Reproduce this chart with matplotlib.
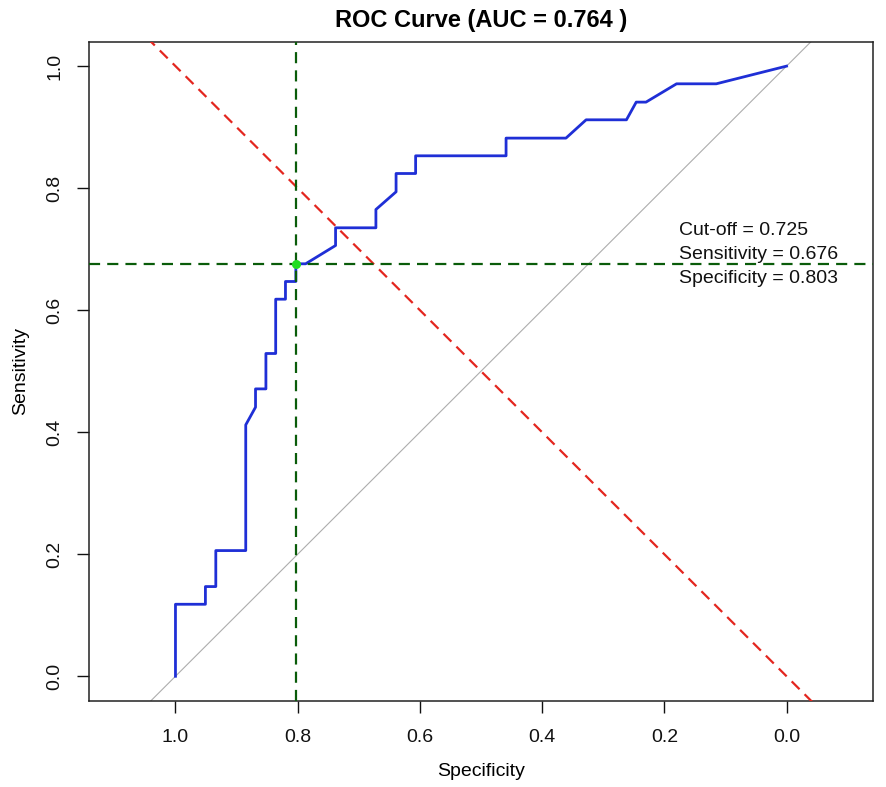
import numpy as np
import matplotlib
matplotlib.use("Agg")
import matplotlib.pyplot as plt

plt.rcParams['font.family'] = ['Liberation Sans', 'DejaVu Sans']

# ROC curve vertices
specificity = [1.000, 1.000, 0.951, 0.951, 0.934, 0.934, 0.885, 0.885, 0.869, 0.869,
               0.852, 0.852, 0.836, 0.836, 0.820, 0.820, 0.803, 0.803, 0.787, 0.738,
               0.738, 0.672, 0.672, 0.639, 0.639, 0.607, 0.607, 0.459, 0.459, 0.361,
               0.328, 0.262, 0.246, 0.230, 0.180, 0.115, 0.000]
sensitivity = [0.000, 0.118, 0.118, 0.147, 0.147, 0.206, 0.206, 0.412, 0.441, 0.471,
               0.471, 0.529, 0.529, 0.618, 0.618, 0.647, 0.647, 0.676, 0.676, 0.706,
               0.735, 0.735, 0.765, 0.794, 0.824, 0.824, 0.853, 0.853, 0.882, 0.882,
               0.912, 0.912, 0.941, 0.941, 0.971, 0.971, 1.000]

auc = 0.764
cutoff = 0.725
best_sens = 0.676
best_spec = 0.803

ticks = [1.0, 0.8, 0.6, 0.4, 0.2, 0.0]
tick_labels = ["1.0", "0.8", "0.6", "0.4", "0.2", "0.0"]

fig = plt.figure(figsize=(8.86, 7.87), dpi=100)
ax = fig.add_axes([0.1008, 0.1097, 0.8842, 0.8373])

xlim = (1.141, -0.141)
ylim = (-0.04, 1.04)
line_x = np.array([xlim[0], xlim[1]])
dash = (0, (5, 3.2))

# chance diagonal (sens = 1 - spec) and the red sens = spec line
ax.plot(line_x, 1 - line_x, color='#adadad', lw=0.8, zorder=1)
ax.plot(specificity, sensitivity, color='#1f2fd6', lw=2.0, zorder=2)
ax.plot(line_x, line_x, color='#e3261f', lw=1.6, ls=dash, zorder=3)

ax.axvline(best_spec, color='#0a5c0a', lw=1.6, ls=dash, zorder=4)
ax.axhline(best_sens, color='#0a5c0a', lw=1.6, ls=dash, zorder=4)
ax.plot([best_spec], [best_sens], 'o', color='#22dd22', ms=6.5, mec='none', zorder=5)

ax.text(0.176, 0.691,
        "Cut-off = %.3f\nSensitivity = %.3f\nSpecificity = %.3f" % (cutoff, best_sens, best_spec),
        ha='left', va='center', fontsize=14, linespacing=1.52, color='#111111', zorder=6)

ax.set_xlim(xlim)
ax.set_ylim(ylim)
ax.set_xticks(ticks)
ax.set_xticklabels(tick_labels)
ax.set_yticks(ticks)
ax.set_yticklabels(tick_labels, rotation=90, va='center')
ax.tick_params(axis='both', length=8.6, width=1.0, labelsize=14, colors='#111111')
ax.tick_params(axis='x', pad=12)
ax.tick_params(axis='y', pad=10)
for sp in ax.spines.values():
    sp.set_linewidth(1.1)
    sp.set_color('#222222')

ax.set_title("ROC Curve (AUC = %.3f )" % auc, fontsize=17, fontweight='bold', pad=10.5)
ax.set_xlabel("Specificity", fontsize=14)
ax.set_ylabel("Sensitivity", fontsize=14)
ax.xaxis.set_label_coords(0.5, -0.094)
ax.yaxis.set_label_coords(-0.077, 0.5)

fig.savefig("out.png", dpi=100)
